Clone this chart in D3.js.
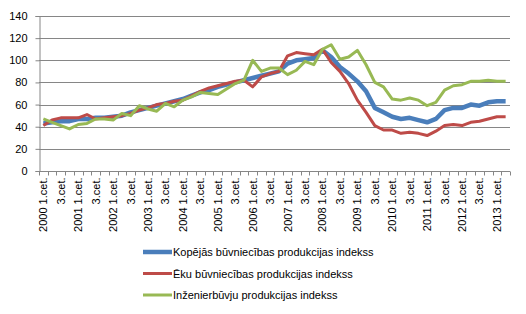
<!DOCTYPE html>
<html>
<head>
<meta charset="utf-8">
<script src="https://cdn.jsdelivr.net/npm/d3@7"></script>
<style>
  body { margin: 0; background: #fff; }
  text { font-family: Arial, "Liberation Sans", sans-serif; fill: #000; }
</style>
</head>
<body>
<div id="chart"></div>
<script>
// quarters 2000 Q1 .. 2013 Q2
var years = d3.range(2000, 2014);
var quarters = [];
years.forEach(function (y) {
    [1, 2, 3, 4].forEach(function (q) {
        if (y === 2013 && q > 2) return;
        quarters.push({ year: y, q: q });
    });
});

var seriesNames = [
    'Kopējās būvniecības produkcijas indekss',
    'Ēku būvniecības produkcijas indekss',
    'Inženierbūvju produkcijas indekss'
];

var kopejas = [43, 44, 45, 45, 47, 47, 48, 48, 49, 50, 53, 55, 57, 59, 61, 63,
    65, 68, 71, 73, 76, 78, 80, 82, 84, 86, 88, 90, 97, 100, 101, 102,
    109, 103, 94, 88, 81, 72, 57, 53, 49, 47, 48, 46, 44, 47, 55, 57,
    57, 60, 59, 62, 63, 63];

var eku = [41, 46, 48, 48, 48, 51, 47, 48, 49, 50, 52, 55, 57, 60, 61, 63,
    64, 68, 72, 75, 77, 79, 81, 82, 76, 85, 88, 90, 104, 107, 106, 105,
    110, 98, 90, 79, 64, 53, 41, 37, 37, 34, 35, 34, 32, 36, 41, 42,
    41, 44, 45, 47, 49, 49];

var inzenier = [47, 44, 41, 38, 42, 43, 47, 47, 46, 52, 50, 59, 56, 54, 61, 58,
    64, 67, 71, 70, 69, 74, 79, 82, 100, 90, 93, 93, 87, 91, 99, 96,
    110, 114, 101, 103, 109, 96, 80, 76, 65, 64, 66, 64, 59, 62, 73, 77,
    78, 81, 81, 82, 81, 81];

var yTicks = [0, 20, 40, 60, 80, 100, 120, 140];
var colors = ['#4A7EBB', '#BE4B48', '#98B954'];
var widths = [4.5, 3, 3];

var svgWidth = 526, svgHeight = 314;
var margin = { top: 16, right: 16, bottom: 143, left: 39 };
var chartWidth = 510 - margin.left;
var chartHeight = 171 - margin.top;

var svg = d3.select('#chart').append('svg')
    .attr('width', svgWidth)
    .attr('height', svgHeight);

var g = svg.append('g')
    .attr('transform', `translate(${margin.left}, ${margin.top})`);

var x = d3.scaleBand()
    .domain(d3.range(quarters.length))
    .range([0, chartWidth]);

var y = d3.scaleLinear()
    .domain([0, 140])
    .range([chartHeight, 0]);

// gridlines
g.selectAll('.grid')
    .data(yTicks.filter(d => d > 0))
    .enter().append('line')
    .attr('x1', 0).attr('x2', chartWidth)
    .attr('y1', d => Math.round(y(d)) + 0.5)
    .attr('y2', d => Math.round(y(d)) + 0.5)
    .attr('stroke', '#868686')
    .attr('stroke-width', 1);

// y axis
var yAxis = g.append('g')
    .attr('transform', 'translate(0.5,0)')
    .call(d3.axisLeft(y).tickValues(yTicks).tickSize(4).tickPadding(8));
yAxis.select('.domain').attr('stroke', '#868686');
yAxis.selectAll('.tick line').attr('stroke', '#868686');
yAxis.selectAll('.tick text').style('font-size', '11px');

// x axis with ticks on category boundaries
var xAxisG = g.append('g')
    .attr('transform', `translate(0, ${chartHeight + 0.5})`);
xAxisG.append('line')
    .attr('x1', 0).attr('x2', chartWidth)
    .attr('stroke', '#868686');
xAxisG.selectAll('.xt')
    .data(d3.range(quarters.length + 1))
    .enter().append('line')
    .attr('x1', d => Math.round(d * x.bandwidth()) + 0.5)
    .attr('x2', d => Math.round(d * x.bandwidth()) + 0.5)
    .attr('y1', 0).attr('y2', 4)
    .attr('stroke', '#868686');

xAxisG.selectAll('.xl')
    .data(quarters.map((d, i) => ({ d: d, i: i })).filter(o => o.d.q === 1 || o.d.q === 3))
    .enter().append('text')
    .attr('transform', o => `translate(${x(o.i) + x.bandwidth() / 2 + 4}, 6) rotate(-90)`)
    .attr('text-anchor', 'end')
    .style('font-size', '11px')
    .text(o => o.d.q === 1 ? `${o.d.year} 1.cet.` : '3.cet.');

// lines
var line = d3.line()
    .x((d, i) => x(i) + x.bandwidth() / 2)
    .y(d => y(d));

[kopejas, eku, inzenier].forEach(function (s, k) {
    g.append('path')
        .datum(s)
        .attr('d', line)
        .attr('fill', 'none')
        .attr('stroke', colors[k])
        .attr('stroke-width', widths[k])
        .attr('stroke-linejoin', 'round');
});

// legend
var legend = svg.append('g').attr('transform', 'translate(143, 252)');
seriesNames.forEach(function (name, k) {
    var row = legend.append('g').attr('transform', `translate(0, ${k * 21.5})`);
    row.append('line')
        .attr('x1', 0).attr('x2', 29)
        .attr('stroke', colors[k])
        .attr('stroke-width', widths[k]);
    row.append('text')
        .attr('x', 30).attr('y', 4)
        .style('font-size', '11px')
        .text(name);
});
</script>
</body>
</html>
